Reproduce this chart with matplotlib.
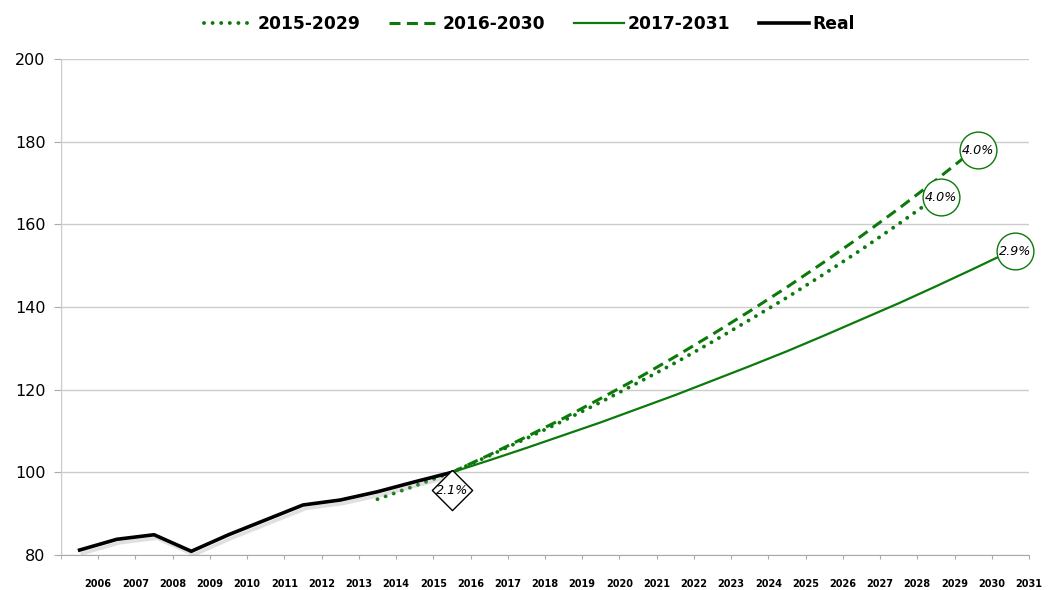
import matplotlib
matplotlib.use("Agg")
import matplotlib.pyplot as plt
import matplotlib.patheffects as pe
from matplotlib.transforms import ScaledTranslation
from matplotlib.lines import Line2D

# ---- data ----
tick_labels = ["2006", "2007", "2008", "2009", "2010", "2011", "2012", "2013", "2014",
               "2015", "2016", "2017", "2018", "2019", "2020", "2021", "2022", "2023",
               "2024", "2025", "2026", "2027", "2028", "2029", "2030", "2031"]

real_idx = list(range(0, 11))
real_vals = [81.2, 83.8, 84.9, 80.9, 84.9, 88.5, 92.1, 93.3, 95.3, 97.7, 100.0]

s2015_idx = list(range(8, 24))
s2015_vals = [93.5, 96.7, 100.0, 104.0, 108.2, 112.5, 117.0, 121.7, 126.5, 131.6,
              136.9, 142.3, 148.0, 153.9, 160.1, 166.5]

s2016_idx = list(range(10, 25))
s2016_vals = [100.0, 104.2, 108.6, 113.1, 117.9, 122.8, 128.0, 133.4, 139.0, 144.8,
              150.9, 157.2, 163.8, 170.7, 177.9]

s2017_idx = list(range(10, 26))
s2017_vals = [100.0, 102.9, 105.9, 109.0, 112.1, 115.4, 118.7, 122.2, 125.7, 129.3,
              133.1, 137.0, 140.9, 145.0, 149.2, 153.5]

real_label = "2.1%"
end_labels = ["4.0%", "4.0%", "2.9%"]

GREEN = "#0b7a0b"
GRID = "#cccccc"

DOT = dict(color=GREEN, lw=2.8, linestyle=(0, (0.01, 2.2)), dash_capstyle="round")
DASH = dict(color=GREEN, lw=2.2, linestyle=(0, (3.6, 2.1)))
SOLID = dict(color=GREEN, lw=1.6)
REAL = dict(color="black", lw=2.6)

fig = plt.figure(figsize=(10.48, 5.9), dpi=100)
ax = fig.add_axes([61 / 1048, 35 / 590, (1029 - 61) / 1048, (555 - 59) / 590])

def xc(idx):
    return [i + 0.5 for i in idx]

ax.plot(xc(s2015_idx), s2015_vals, zorder=3, **DOT)
ax.plot(xc(s2016_idx), s2016_vals, zorder=3, **DASH)
ax.plot(xc(s2017_idx), s2017_vals, zorder=3, **SOLID)
ax.plot(xc(real_idx), real_vals, zorder=4, solid_joinstyle="round",
        path_effects=[pe.SimpleLineShadow(offset=(2, -2.5), shadow_color="#999999", alpha=0.3),
                      pe.Normal()], **REAL)

# diamond label at end of real series
dpt = fig.dpi_scale_trans
tr_d = ax.transData + ScaledTranslation(0, -18 / 100, dpt)
xr, yr = xc(real_idx)[-1], real_vals[-1]
ax.plot([xr], [yr], marker=[(0, 1), (1, 0), (0, -1), (-1, 0), (0, 1)], markersize=29,
        markerfacecolor="white", markeredgecolor="black", markeredgewidth=1.0,
        transform=tr_d, zorder=6, clip_on=False)
ax.text(xr, yr, real_label, transform=tr_d, ha="center", va="center", fontsize=9.2,
        style="italic", zorder=7)

# circle labels at series ends
tr_c = ax.transData + ScaledTranslation(5 / 100, 0, dpt)
for idx, vals, lab in [(s2015_idx, s2015_vals, end_labels[0]),
                       (s2016_idx, s2016_vals, end_labels[1]),
                       (s2017_idx, s2017_vals, end_labels[2])]:
    x, y = xc(idx)[-1], vals[-1]
    ax.plot([x], [y], marker="o", markersize=26.5, markerfacecolor="white",
            markeredgecolor=GREEN, markeredgewidth=1.0, transform=tr_c, zorder=6, clip_on=False)
    ax.text(x, y, lab, transform=tr_c, ha="center", va="center", fontsize=9.2,
            style="italic", zorder=7)

ax.set_xlim(0, 26)
ax.set_ylim(80, 200)
ax.set_xticks(range(1, 27))
ax.set_xticklabels(tick_labels, fontsize=7, fontweight="bold")
ax.set_xticks(range(0, 27), minor=True)
ax.set_yticks(range(80, 201, 20))
ax.set_yticklabels([str(v) for v in range(80, 201, 20)], fontsize=11.5)
ax.tick_params(axis="x", which="both", length=3, color="#aaaaaa", pad=14)
ax.tick_params(axis="y", length=5, color="#aaaaaa", pad=6)
ax.grid(True, which="minor", axis="x", color=GRID, lw=1.0)
ax.grid(True, which="major", axis="y", color=GRID, lw=1.0)
ax.set_axisbelow(True)
for s in ["top", "right"]:
    ax.spines[s].set_visible(False)
ax.spines["left"].set_color(GRID)
ax.spines["bottom"].set_color("#aaaaaa")

handles = [Line2D([], [], **DOT), Line2D([], [], **DASH), Line2D([], [], **SOLID),
           Line2D([], [], **REAL)]
fig.legend(handles, ["2015-2029", "2016-2030", "2017-2031", "Real"], loc="center",
           bbox_to_anchor=(529.5 / 1048, 1 - 24 / 590), ncol=4, frameon=False,
           prop={"weight": "bold", "size": 12.3}, handlelength=2.93, handletextpad=0.2,
           columnspacing=1.7, borderpad=0, borderaxespad=0)

fig.savefig("out.png", dpi=100)
